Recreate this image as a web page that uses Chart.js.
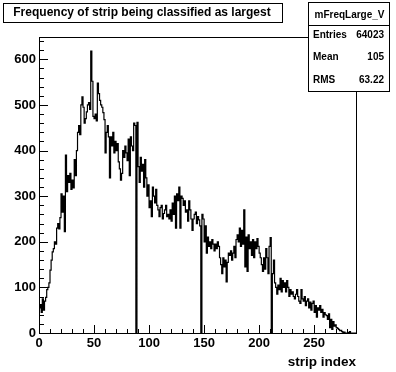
<!DOCTYPE html>
<html>
<head>
<meta charset="utf-8">
<script src="https://cdn.jsdelivr.net/npm/chart.js@4"></script>
<style>
  html, body { margin: 0; padding: 0; background: #fff; }
  #wrap { width: 396px; height: 372px; }
</style>
</head>
<body>
<div id="wrap"><canvas id="freqChart" width="396" height="372"></canvas></div>
<script>
// Histogram contents (one value per strip, 288 strips)
const stripCounts = [
    30, 55, 62, 45, 75, 50, 70, 78, 95, 100,
    110, 138, 160, 178, 185, 200, 195, 230, 240, 228,
    253, 305, 265, 300, 222, 390, 310, 345, 330, 350,
    315, 335, 318, 380, 345, 400, 440, 455, 435, 500,
    518, 495, 460, 470, 485, 500, 505, 490, 618, 552,
    475, 470, 480, 465, 548, 525, 510, 500, 495, 483,
    468, 395, 440, 455, 430, 340, 430, 410, 440, 395,
    420, 400, 415, 375, 360, 335, 350, 400, 385, 410,
    395, 378, 425, 345, 430, 410, 400, 460, 455, 0,
    462, 365, 330, 385, 355, 370, 320, 380, 340, 300,
    325, 275, 290, 255, 320, 300, 285, 315, 280, 270,
    255, 275, 280, 250, 262, 270, 280, 255, 260, 250,
    270, 245, 285, 260, 300, 230, 305, 290, 320, 230,
    300, 295, 280, 290, 265, 270, 245, 290, 270, 250,
    225, 250, 260, 265, 240, 255, 248, 235, 0, 260,
    250, 200, 235, 175, 210, 190, 200, 185, 205, 195,
    180, 195, 185, 200, 190, 165, 150, 130, 165, 145,
    160, 112, 155, 175, 170, 180, 160, 175, 190, 165,
    205, 215, 200, 230, 190, 225, 195, 270, 145, 210,
    135, 215, 185, 200, 170, 205, 165, 200, 185, 207,
    190, 175, 165, 150, 135, 165, 140, 185, 165, 130,
    190, 209, 0, 130, 160, 110, 100, 85, 105, 95,
    120, 90, 115, 100, 110, 90, 115, 100, 80, 95,
    85, 90, 80, 75, 85, 95, 80, 70, 65, 95,
    75, 70, 80, 60, 70, 75, 55, 68, 50, 65,
    70, 45, 60, 35, 55, 50, 60, 45, 52, 35,
    45, 40, 38, 30, 42, 12, 30, 8, 25, 15,
    18, 12, 10, 8, 5, 6, 3, 1, 2, 0,
    0, 0, 1, 3, 0, 0, 0, 0
];

const xTickLabels = [0, 50, 100, 150, 200, 250];
const yTickLabels = [0, 100, 200, 300, 400, 500, 600];
const xMax = 288;
const yMax = 649;

const titleText = 'Frequency of strip being classified as largest';
const statsName = 'mFreqLarge_V';
const statsRows = [['Entries', '64023'], ['Mean', '105'], ['RMS', '63.22']];

const FONT = '"Liberation Sans", Arial, Helvetica, sans-serif';

// bin lower edges + closing point at the upper edge of the last bin
const histPoints = stripCounts.map((v, i) => ({ x: i, y: v }));
histPoints.push({ x: stripCounts.length, y: stripCounts[stripCounts.length - 1] });

// ROOT-like frame, inward ticks, title pave and stats box
const rootDecor = {
    id: 'rootDecor',
    afterDatasetsDraw(chart) {
        const { ctx, chartArea: a, scales: { x, y } } = chart;
        ctx.save();
        ctx.strokeStyle = '#000';
        ctx.lineWidth = 1;
        ctx.beginPath();
        for (let v = 0; v <= xMax; v += 10) {
            const px = Math.round(x.getPixelForValue(v)) + 0.5;
            const len = v % 50 === 0 ? 8 : 4;
            ctx.moveTo(px, a.bottom);
            ctx.lineTo(px, a.bottom - len);
        }
        for (let v = 0; v <= yMax; v += 20) {
            const py = Math.round(y.getPixelForValue(v)) + 0.5;
            const len = v % 100 === 0 ? 9 : 5;
            ctx.moveTo(a.left, py);
            ctx.lineTo(a.left + len, py);
        }
        ctx.stroke();
        ctx.strokeRect(a.left + 0.5, a.top + 0.5, a.right - a.left, a.bottom - a.top);

        // title pave
        ctx.fillStyle = '#fff';
        ctx.fillRect(3, 3, 279, 19);
        ctx.strokeRect(3.5, 3.5, 279, 19);
        ctx.fillStyle = '#000';
        ctx.font = 'bold 12px ' + FONT;
        ctx.textAlign = 'center';
        ctx.textBaseline = 'middle';
        ctx.fillText(titleText, 142, 13);

        // stats box
        const bx = 308, by = 2, bw = 81, bh = 89;
        ctx.fillStyle = '#fff';
        ctx.fillRect(bx, by, bw, bh);
        ctx.strokeRect(bx + 0.5, by + 0.5, bw, bh);
        ctx.beginPath();
        ctx.moveTo(bx, 25.5);
        ctx.lineTo(bx + bw, 25.5);
        ctx.stroke();
        ctx.fillStyle = '#000';
        ctx.font = 'bold 10px ' + FONT;
        ctx.textAlign = 'center';
        ctx.fillText(statsName, bx + bw / 2 + 1, 15);
        statsRows.forEach((row, i) => {
            const ty = 35 + i * 22.5;
            ctx.textAlign = 'left';
            ctx.fillText(row[0], bx + 5, ty);
            ctx.textAlign = 'right';
            ctx.fillText(row[1], bx + bw - 5, ty);
        });
        ctx.restore();
    }
};

const ctx = document.getElementById('freqChart').getContext('2d');
const freqChart = new Chart(ctx, {
    type: 'line',
    data: {
        datasets: [{
            data: histPoints,
            stepped: 'after',
            borderColor: '#000',
            borderWidth: 1.2,
            pointRadius: 0,
            fill: false
        }]
    },
    options: {
        responsive: false,
        animation: false,
        layout: { padding: { left: 0, right: 40, top: 37, bottom: 0 } },
        plugins: {
            legend: { display: false },
            tooltip: { enabled: false }
        },
        scales: {
            x: {
                type: 'linear',
                min: 0,
                max: xMax,
                grid: { display: false, drawTicks: false },
                border: { display: false },
                afterBuildTicks: scale => { scale.ticks = xTickLabels.map(v => ({ value: v })); },
                afterFit: scale => { scale.height = 39; },
                ticks: {
                    color: '#000',
                    padding: 3,
                    maxRotation: 0,
                    font: { family: FONT, size: 13, weight: 'bold' }
                },
                title: {
                    display: true,
                    text: 'strip index',
                    align: 'end',
                    color: '#000',
                    padding: { top: 0, bottom: 2 },
                    font: { family: FONT, size: 13.5, weight: 'bold' }
                }
            },
            y: {
                type: 'linear',
                min: 0,
                max: yMax,
                grid: { display: false, drawTicks: false },
                border: { display: false },
                afterBuildTicks: scale => { scale.ticks = yTickLabels.map(v => ({ value: v })); },
                afterFit: scale => { scale.width = 39; },
                ticks: {
                    color: '#000',
                    padding: 3,
                    font: { family: FONT, size: 13, weight: 'bold' }
                }
            }
        }
    },
    plugins: [rootDecor]
});
</script>
</body>
</html>
